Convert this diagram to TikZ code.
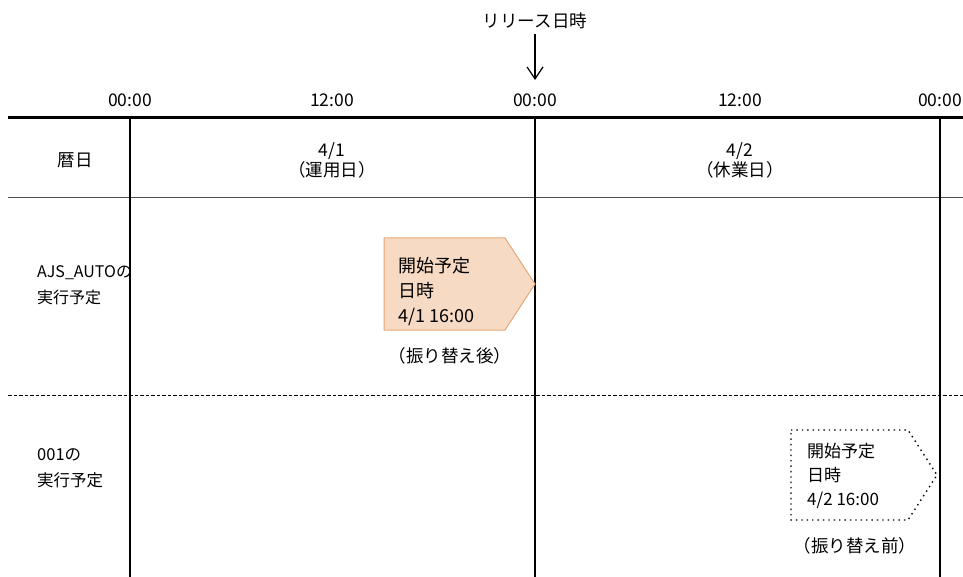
\documentclass[tikz,border=0pt]{standalone}
\usepackage{fontspec}
\setmainfont{Noto Sans CJK JP}
\usetikzlibrary{arrows.meta}
\definecolor{orfill}{RGB}{247,218,196}
\definecolor{ordraw}{RGB}{228,168,120}
\begin{document}
\begin{tikzpicture}[x=1pt,y=-1pt,
  txt/.style={font=\fontsize{17.5}{20}\selectfont, inner sep=0pt},
  lbl/.style={txt, align=left, anchor=west},
  grid/.style={line width=1.4pt},
  ]
\useasboundingbox (0,0) rectangle (963,577);
% time labels
\node[txt] (t0) at (130,100) {00:00};
\node[txt] (t1) at (332,100) {12:00};
\node[txt] (t2) at (535,100) {00:00};
\node[txt] (t3) at (740,100) {12:00};
\node[txt, anchor=west] (t4) at (918,100) {00:00};
% release
\node[txt] (rel) at (535,21) {リリース日時};
\coordinate (relend) at (535,80);
\draw[line width=1.2pt, -{Straight Barb[length=12pt,width=16pt,line width=1.2pt]}] (rel.south) ++(0,5) -- (relend);
% grid
\draw[line width=3pt] (8,118) -- (963,118);
\draw[line width=1pt, black!70] (8,198) -- (963,198);
\draw[line width=1pt, dash pattern=on 3.5pt off 2pt] (8,395) -- (963,395);
\draw[grid] (130,118) -- (130,577);
\draw[grid] (535,118) -- (535,577);
\draw[grid] (940,118) -- (940,577);
% header row
\node[txt] (koyomi) at (75,160) {暦日};
\node[txt, align=center] (d1) at (332,160) {4/1\\[0pt]（運用日）};
\node[txt, align=center] (d2) at (740,160) {4/2\\[0pt]（休業日）};
% row labels
\node[lbl, align=left, font=\fontsize{16}{26}\selectfont] (r1) at (37,285) {AJS\_AUTOの\\実行予定};
\node[lbl, align=left, font=\fontsize{16.5}{26}\selectfont] (r2) at (37,468) {001の\\実行予定};
% after box
\draw[fill=orfill, draw=ordraw, line width=1pt] (384,238) -- (505,238) -- (535,284) -- (505,330) -- (384,330) -- cycle;
\node[lbl, font=\fontsize{18}{25}\selectfont] (a1) at (398,292) {開始予定\\日時\\4/1 16:00};
\node[txt] (a2) at (450,356) {（振り替え後）};
% before box
\draw[line width=1.4pt, dash pattern=on 1.4pt off 4pt] (791,430) -- (908,430) -- (937,475) -- (908,520) -- (791,520) -- cycle;
\node[lbl, font=\fontsize{17}{24}\selectfont] (b1) at (807,476) {開始予定\\日時\\4/2 16:00};
\node[txt] (b2) at (855,546) {（振り替え前）};
\end{tikzpicture}
\end{document}
